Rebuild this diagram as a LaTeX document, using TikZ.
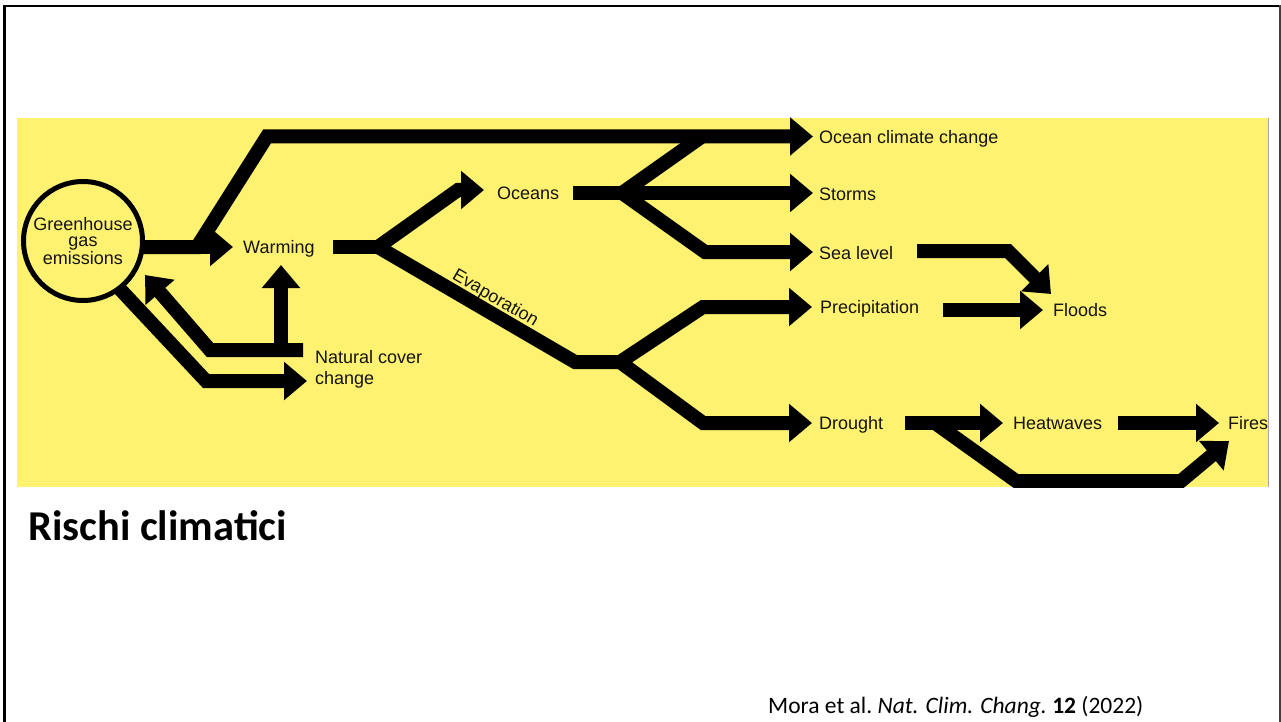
\documentclass[tikz,border=0pt]{standalone}
\usepackage{fontspec}
\setmainfont{Liberation Sans}
\newfontfamily\calib{Carlito}
\usetikzlibrary{arrows.meta}
\definecolor{bgyellow}{RGB}{255,242,112}
\definecolor{inkc}{RGB}{20,20,20}
\begin{document}
\begin{tikzpicture}[x=1pt,y=-1pt,
  flow/.style={line width=14pt, line join=miter, draw=black},
  arr/.style={flow, -{Triangle[width=37pt,length=23pt]}},
  lab/.style={inner sep=0pt, anchor=west, text height=13pt, text depth=0pt, text=inkc, font=\fontsize{18}{16}\selectfont}]
\useasboundingbox (0,0) rectangle (1281,722);
\fill[white] (0,0) rectangle (1281,722);
% slide border
\draw[line width=3pt, black] (4.5,6) -- (4.5,722);
\draw[line width=2pt, black] (3,6) -- (1281,6);
\draw[line width=2pt, black!75] (1280,5) -- (1280,722);
% yellow panel
\fill[bgyellow] (17,118) rectangle (1268,487);
\draw[line width=1pt, black!35] (1268,118) -- (1268,487);
\begin{scope}
\clip (17,118) rectangle (1267.5,487);
% nodes
\node[circle, draw=black, line width=5pt, minimum size=119pt, inner sep=0pt, align=center, text=inkc,
  font=\fontsize{18}{15.5}\selectfont] (ghg) at (83,241) {Greenhouse\\gas\\emissions};
\node[lab] (warm) at (243,247) {Warming};
\node[lab] (oce) at (497,193) {Oceans};
\node[lab] (occ) at (819,137) {Ocean climate change};
\node[lab] (sto) at (819,194) {Storms};
\node[lab] (sea) at (819,253) {Sea level};
\node[lab] (pre) at (820,307) {Precipitation};
\node[lab] (flo) at (1053,310) {Floods};
\node[lab] (dro) at (819,423) {Drought};
\node[lab] (hea) at (1013,423) {Heatwaves};
\node[lab] (fir) at (1228,423) {Fires};
\node[inner sep=0pt, anchor=base west, align=left, text=inkc, font=\fontsize{18}{21}\selectfont] (ncc) at (315,384.5) {Natural cover\\change};
\node[lab, anchor=center, rotate=-30.3] (eva) at (496,297) {Evaporation};
% coordinates
\coordinate (g0) at (140,247);
\coordinate (g1) at (197,247);
\coordinate (g2) at (267,136.5);
\coordinate (wt) at (233,247);
\coordinate (occt) at (813,136.5);
\coordinate (gl0) at (118,287);
\coordinate (gl1) at (206,381);
\coordinate (ncct) at (307,381);
\coordinate (n0) at (303,350);
\coordinate (n1) at (210,350);
\coordinate (gt) at (145,275);
\coordinate (v0) at (281,350);
\coordinate (vt) at (281,265);
\coordinate (w0) at (333,247);
\coordinate (wf) at (378,247);
\coordinate (o1) at (458,190);
\coordinate (ot) at (484,190);
\coordinate (e1) at (575,362);
\coordinate (ef) at (620,362);
\coordinate (p1) at (703,307);
\coordinate (pt) at (812,307);
\coordinate (d1) at (703,423);
\coordinate (dt) at (812,423);
\coordinate (oc0) at (573,193);
\coordinate (ocf) at (622,193);
\coordinate (u1) at (702,136.5);
\coordinate (st) at (813,193);
\coordinate (s1) at (705,252);
\coordinate (sl) at (813,252);
\coordinate (sf0) at (917,251);
\coordinate (sf1) at (1008,251);
\coordinate (sft) at (1051,294);
\coordinate (pf0) at (943,310);
\coordinate (pft) at (1043,310);
\coordinate (dh0) at (905,423);
\coordinate (dht) at (1003,423);
\coordinate (hf0) at (1118,423);
\coordinate (hft) at (1219,423);
\coordinate (df0) at (935,423);
\coordinate (df1) at (1016,481);
\coordinate (df2) at (1181,481);
\coordinate (dft) at (1229,441);
% connectors
\draw[arr] (g0) -- (wt);
\draw[arr] (g0) -- (g1) -- (g2) -- (occt);
\draw[arr] (gl0) -- (gl1) -- (ncct);
\draw[arr] (n0) -- (n1) -- (gt);
\draw[arr] (v0) -- (vt);
\draw[flow] (w0) -- (wf);
\draw[arr] (wf) -- (o1) -- (ot);
\draw[flow] (wf) -- (e1) -- (ef);
\draw[arr] (ef) -- (p1) -- (pt);
\draw[arr] (ef) -- (d1) -- (dt);
\draw[flow] (oc0) -- (ocf);
\draw[flow] (ocf) -- (u1);
\draw[arr] (ocf) -- (st);
\draw[arr] (ocf) -- (s1) -- (sl);
\draw[arr] (sf0) -- (sf1) -- (sft);
\draw[arr] (pf0) -- (pft);
\draw[arr] (dh0) -- (dht);
\draw[arr] (hf0) -- (hft);
\draw[arr] (df0) -- (df1) -- (df2) -- (dft);
\end{scope}
% captions
\node[inner sep=0pt, anchor=base west, font=\calib\bfseries\fontsize{42.5}{48}\selectfont] (title) at (28,540) {Rischi climatici};
\node[inner sep=0pt, anchor=base west, font=\calib\fontsize{23.5}{28}\selectfont] (cite) at (768,713) {Mora et al.\ \textit{Nat. Clim. Chang.}\ \textbf{12} (2022)};
\end{tikzpicture}
\end{document}
